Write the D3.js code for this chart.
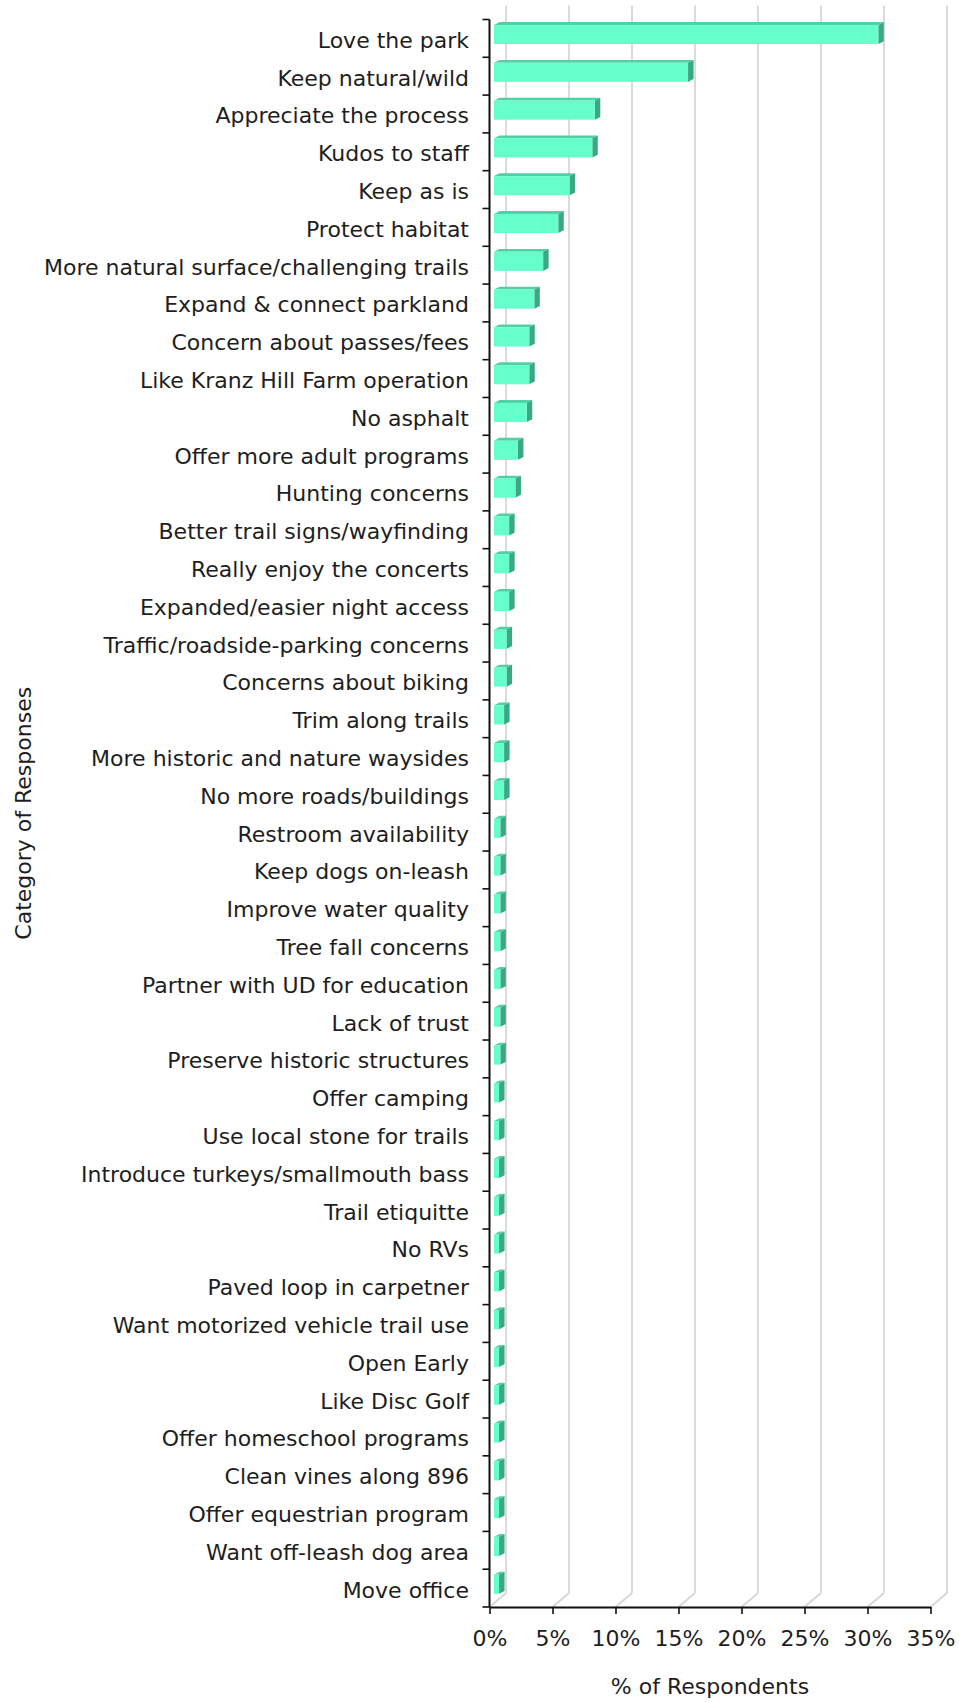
<!DOCTYPE html>
<html>
<head>
<meta charset="utf-8">
<script src="https://cdn.jsdelivr.net/npm/d3@7/dist/d3.min.js"></script>
<style>
  html, body { margin: 0; padding: 0; background: #fff; }
  svg { display: block; }
  text { font-family: "DejaVu Sans", Verdana, sans-serif; fill: #1e1e1e; }
</style>
</head>
<body>
<svg id="chart" width="959" height="1702"></svg>
<script>
// Survey response categories, top to bottom
const categories = [
  "Love the park",
  "Keep natural/wild",
  "Appreciate the process",
  "Kudos to staff",
  "Keep as is",
  "Protect habitat",
  "More natural surface/challenging trails",
  "Expand & connect parkland",
  "Concern about passes/fees",
  "Like Kranz Hill Farm operation",
  "No asphalt",
  "Offer more adult programs",
  "Hunting concerns",
  "Better trail signs/wayfinding",
  "Really enjoy the concerts",
  "Expanded/easier night access",
  "Traffic/roadside-parking concerns",
  "Concerns about biking",
  "Trim along trails",
  "More historic and nature waysides",
  "No more roads/buildings",
  "Restroom availability",
  "Keep dogs on-leash",
  "Improve water quality",
  "Tree fall concerns",
  "Partner with UD for education",
  "Lack of trust",
  "Preserve historic structures",
  "Offer camping",
  "Use local stone for trails",
  "Introduce turkeys/smallmouth bass",
  "Trail etiquitte",
  "No RVs",
  "Paved loop in carpetner",
  "Want motorized vehicle trail use",
  "Open Early",
  "Like Disc Golf",
  "Offer homeschool programs",
  "Clean vines along 896",
  "Offer equestrian program",
  "Want off-leash dog area",
  "Move office"
];

// Percent of respondents per category
const percents = [
  30.5, 15.4, 8.0, 7.8, 6.0, 5.1, 3.9, 3.2, 2.8, 2.8,
  2.6, 1.9, 1.7, 1.2, 1.2, 1.2, 1.0, 1.0, 0.8, 0.8,
  0.8, 0.5, 0.5, 0.5, 0.5, 0.5, 0.5, 0.5, 0.4, 0.4,
  0.4, 0.4, 0.4, 0.4, 0.4, 0.4, 0.4, 0.4, 0.4, 0.4,
  0.4, 0.4
];

// Value axis ticks
const xTicks = [0, 5, 10, 15, 20, 25, 30, 35];
const xTickLabels = ["0%", "5%", "10%", "15%", "20%", "25%", "30%", "35%"];

(function draw() {
  const svg = d3.select("#chart");

  // Plot geometry (front plane) and pseudo-3D depth offsets
  const plotL = 489.5, plotR = 930.5, plotT = 19.5, plotB = 1607;
  const wallDx = 16.5, wallDy = 14;     // back wall offset
  const barOffX = 4.5;                  // bar front plane offset from the axis
  const barDx = 5.5, barDy = 2.8;       // bar depth

  const x = d3.scaleLinear().domain([0, 35]).range([plotL, plotR]);
  const y = d3.scaleBand().domain(categories).range([plotT, plotB]);
  const step = y.step();

  // Back wall gridlines and floor diagonals
  const grid = svg.append("g").attr("stroke", "#d6d6d6").attr("stroke-width", 1.8).attr("fill", "none");
  grid.selectAll("line.v").data(xTicks).join("line")
    .attr("class", "v")
    .attr("x1", d => x(d) + wallDx).attr("x2", d => x(d) + wallDx)
    .attr("y1", plotT - wallDy).attr("y2", plotB - wallDy);
  grid.selectAll("line.f").data(xTicks).join("line")
    .attr("class", "f")
    .attr("x1", d => x(d)).attr("y1", plotB)
    .attr("x2", d => x(d) + wallDx).attr("y2", plotB - wallDy);

  // Bars: top face, end face, front face
  const bars = svg.append("g").selectAll("g").data(categories).join("g");
  const faceTop = c => y(c) + 5.4;
  const faceH = 19.2;
  const x0 = x(0) + barOffX;
  const xr = i => x(percents[i]) + barOffX;

  bars.append("path")
    .attr("fill", "#4fd0a5")
    .attr("d", (c, i) => {
      const t = faceTop(c), r = xr(i);
      return `M${x0},${t}L${r},${t}L${r + barDx},${t - barDy}L${x0 + barDx},${t - barDy}Z`;
    });
  bars.append("path")
    .attr("fill", "#3ba883")
    .attr("d", (c, i) => {
      const t = faceTop(c), r = xr(i);
      return `M${r},${t}L${r + barDx},${t - barDy}L${r + barDx},${t + faceH - barDy}L${r},${t + faceH}Z`;
    });
  bars.append("rect")
    .attr("fill", "#66ffcc")
    .attr("x", x0)
    .attr("y", c => faceTop(c))
    .attr("width", (c, i) => Math.max(0, xr(i) - x0))
    .attr("height", faceH);

  // Category axis labels
  const yAxis = d3.axisLeft(y).tickSize(0).tickPadding(20.5);
  const gy = svg.append("g").attr("transform", `translate(${plotL},0)`).call(yAxis);
  gy.select(".domain").remove();
  gy.selectAll("text")
    .attr("font-size", 22)
    .attr("dy", null)
    .attr("y", 9.5)
    .style("font-family", "DejaVu Sans, sans-serif")
    .attr("fill", "#1e1e1e");

  // Category boundary ticks and axis line
  const bounds = d3.range(categories.length + 1).map(i => plotT + i * step);
  svg.append("g").selectAll("line").data(bounds).join("line")
    .attr("x1", plotL - 7).attr("x2", plotL)
    .attr("y1", d => d).attr("y2", d => d)
    .attr("stroke", "#111").attr("stroke-width", 1.6);
  svg.append("line")
    .attr("x1", plotL).attr("x2", plotL).attr("y1", plotT).attr("y2", plotB)
    .attr("stroke", "#111").attr("stroke-width", 2);

  // Value axis
  const xAxis = d3.axisBottom(x).tickValues(xTicks)
    .tickFormat((d, i) => xTickLabels[i]).tickSize(7).tickPadding(16).tickSizeOuter(0);
  const gx = svg.append("g").attr("transform", `translate(0,${plotB})`).call(xAxis);
  gx.select(".domain").attr("stroke", "#111").attr("stroke-width", 2);
  gx.selectAll(".tick line").attr("stroke", "#111").attr("stroke-width", 1.6);
  gx.selectAll("text").attr("font-size", 22).attr("fill", "#1e1e1e")
    .style("font-family", "DejaVu Sans, sans-serif");

  // Axis titles
  svg.append("text")
    .attr("x", (plotL + plotR) / 2).attr("y", 1694)
    .attr("text-anchor", "middle").attr("font-size", 22)
    .text("% of Respondents");
  svg.append("text")
    .attr("transform", `translate(31,${(plotT + plotB) / 2}) rotate(-90)`)
    .attr("text-anchor", "middle").attr("font-size", 22)
    .text("Category of Responses");
})();
</script>
</body>
</html>
